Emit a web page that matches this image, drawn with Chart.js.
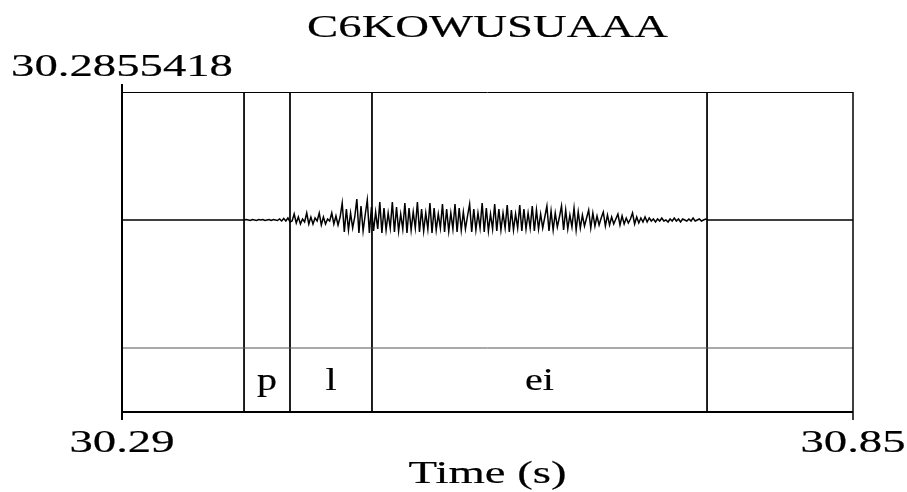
<!DOCTYPE html>
<html>
<head>
<meta charset="utf-8">
<script src="https://cdn.jsdelivr.net/npm/chart.js@4"></script>
<style>
    body { margin: 0; background: #fff; }
</style>
</head>
<body>
<canvas id="myChart" width="907" height="492"></canvas>
<script>
// axis ranges (time in s, amplitude in arbitrary units; lower part is the text tier)
const xMin = 30.29;
const xMax = 30.85;
const yMin = -192;
const yMax = 128;
const tierLineY = -128;
const tierTextY = -160;

const titleText = 'C6KOWUSUAAA';
const topLabel = '30.2855418';
const xTicks = [30.29, 30.85];
const xTickLabels = ['30.29', '30.85'];
const xTitle = 'Time (s)';

// segmentation tier
const tierEdges = [30.29, 30.3835, 30.4187, 30.4815, 30.7382, 30.85];
const tierLabels = ['', 'p', 'l', 'ei', ''];

// waveform samples
const waveStart = 30.3835;
const waveStep = 0.0016;
const wave = [
    0, 0.5, 0, -0.5, 0.5, 0, -0.5, 0.5, 0, 0.5, -0.5, 0, 0.5, -0.5, 0.5, 0, -0.5, 1, -1, 1.5, -1, 2, -2,
    -1, 6, -3, 3, -4, 1, -2, 7, -4, 3, -4, 2, -1, 7, -5, 3, -4, 1, -1, 7, -4, 4, -5, 3,
    17, -12, 11, -10, 7, -8, 3,
    21, -13, 14, -11, 5,
    20, -13, 13, -11, 8, -9,
    18, -13, 12, -10, 7, -8,
    18, -12, 13, -11, 6, -9,
    17, -13, 12, -10, 8, -8,
    18, -12, 11, -11, 7, -9,
    17, -13, 12, -10, 6, -8,
    16, -12, 11, -11, 7, -9,
    16, -12, 12, -10, 8, -9, 4,
    16, -12, 11, -10, 7, -8,
    17, -12, 12, -11, 6, -9,
    16, -11, 11, -10, 7, -8,
    15, -12, 10, -10, 6, -8,
    15, -11, 11, -9, 7, -8,
    14, -11, 10, -9, 6, -8, 3,
    14, -11, 9, -10, 7, -7, 3,
    14, -10, 10, -9, 5, -7,
    12, -10, 8, -8, 5, -6, 2,
    10, -8, 7, -6, 4, -5, 2,
    8, -6, 5, -5, 3, -4, 1,
    6, -5, 4, -4, 2, -3, 1,
    7, -4, 3, -3, 2, -2,
    3, -2, 2, -1, 1, -2, 1, -1, 2, -1, 0, -2, 1, -1, 2, -1, 1, -2, 1, 0, -1, 1, -1, 2, -1, 0, 1, -1, 0, 1, 0
];

const fontFamily = '"Liberation Serif", "DejaVu Serif", serif';
const stretch = 1.46;

function stretchedText(ctx, text, x, y, sx) {
    ctx.save();
    ctx.translate(x, y);
    ctx.scale(sx || stretch, 1);
    ctx.fillText(text, 0, 0);
    ctx.strokeText(text, 0, 0);
    ctx.restore();
}

const praatFrame = {
    id: 'praatFrame',
    afterDatasetsDraw(chart) {
        const ctx = chart.ctx;
        const area = chart.chartArea;
        const xs = chart.scales.x;
        const ys = chart.scales.y;

        ctx.save();
        ctx.strokeStyle = '#000';

        // top and right border
        ctx.lineWidth = 1;
        ctx.beginPath();
        ctx.moveTo(area.left, area.top + 0.5);
        ctx.lineTo(area.right, area.top + 0.5);
        ctx.stroke();

        ctx.lineWidth = 1.5;
        ctx.beginPath();
        ctx.moveTo(area.right, area.top);
        ctx.lineTo(area.right, area.bottom + 8);
        ctx.stroke();

        // left axis and bottom border
        ctx.lineWidth = 2;
        ctx.beginPath();
        ctx.moveTo(area.left, area.top - 8);
        ctx.lineTo(area.left, area.bottom + 8);
        ctx.moveTo(area.left, area.bottom);
        ctx.lineTo(area.right, area.bottom);
        ctx.stroke();

        ctx.fillStyle = '#000';
        ctx.lineWidth = 0.2;
        ctx.font = '32px ' + fontFamily;
        ctx.textAlign = 'center';
        ctx.textBaseline = 'alphabetic';

        stretchedText(ctx, titleText, (area.left + area.right) / 2, area.top - 55);
        stretchedText(ctx, topLabel, area.left, area.top - 16);

        xTicks.forEach((t, i) => {
            stretchedText(ctx, xTickLabels[i], xs.getPixelForValue(t), area.bottom + 40);
        });
        stretchedText(ctx, xTitle, (area.left + area.right) / 2, area.bottom + 71);

        // tier labels, centred in their intervals
        tierLabels.forEach((lab, i) => {
            if (!lab) return;
            const mid = (tierEdges[i] + tierEdges[i + 1]) / 2;
            stretchedText(ctx, lab, xs.getPixelForValue(mid), ys.getPixelForValue(tierTextY) + 10, 1.25);
        });

        ctx.restore();
    }
};

let waveData = [{ x: xMin, y: 0 }];
wave.forEach((v, i) => waveData.push({ x: waveStart + i * waveStep, y: v }));
waveData.push({ x: xMax, y: 0 });

let datasets = [
    {
        label: 'wave',
        data: waveData,
        borderColor: '#000',
        borderWidth: 1.5,
        pointRadius: 0
    },
    {
        label: 'tier',
        data: [{ x: xMin, y: tierLineY }, { x: xMax, y: tierLineY }],
        borderColor: '#555',
        borderWidth: 1,
        pointRadius: 0
    }
];

tierEdges.slice(1, -1).forEach(b => {
    datasets.push({
        label: 'boundary',
        data: [{ x: b, y: yMax }, { x: b, y: yMin }],
        borderColor: '#000',
        borderWidth: 1,
        pointRadius: 0
    });
});

new Chart(document.getElementById('myChart'), {
    type: 'line',
    data: { datasets: datasets },
    options: {
        responsive: false,
        animation: false,
        devicePixelRatio: 1,
        layout: {
            padding: { left: 122, right: 54, top: 92, bottom: 80 }
        },
        plugins: {
            legend: { display: false },
            tooltip: { enabled: false }
        },
        scales: {
            x: { type: 'linear', min: xMin, max: xMax, display: false },
            y: { type: 'linear', min: yMin, max: yMax, display: false }
        }
    },
    plugins: [praatFrame]
});
</script>
</body>
</html>
